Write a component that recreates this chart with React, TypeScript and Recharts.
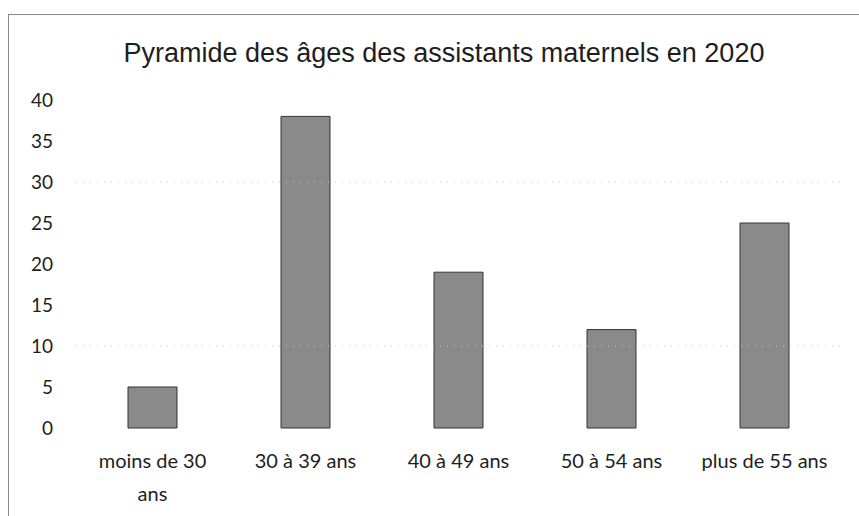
import React from "react";
import { BarChart, Bar, XAxis, YAxis, ReferenceLine } from "recharts";

const categories = ["moins de 30 ans", "30 à 39 ans", "40 à 49 ans", "50 à 54 ans", "plus de 55 ans"];
const values = [5, 38, 19, 12, 25];
const yTicks = [0, 5, 10, 15, 20, 25, 30, 35, 40];
const gridValues = [10, 30];
const title = "Pyramide des âges des assistants maternels en 2020";

const data = categories.map((c, i) => ({ name: c, value: values[i] }));

const XTick = (props: any) => {
  const { x, y, payload } = props;
  const label: string = payload.value;
  let lines = [label];
  if (label.length > 14) {
    const idx = label.lastIndexOf(" ");
    lines = [label.slice(0, idx), label.slice(idx + 1)];
  }
  return (
    <text x={x} y={y} textAnchor="middle" fontFamily="Lato" fontSize={20} fill="#1e1e1e">
      {lines.map((l, i) => (
        <tspan key={i} x={x} dy={i === 0 ? 40 : 33}>
          {l}
        </tspan>
      ))}
    </text>
  );
};

export default function App() {
  return (
    <div style={{ position: "absolute", left: 0, top: 0, width: 859, height: 516, background: "#fff" }}>
      <div
        style={{
          position: "absolute",
          left: 8,
          top: 14,
          width: 851,
          height: 502,
          borderLeft: "1px solid #8a8a8a",
          borderTop: "1px solid #8a8a8a",
        }}
      />
      <div
        style={{
          position: "absolute",
          left: 0,
          top: 38,
          width: 888,
          textAlign: "center",
          fontFamily: "Liberation Sans",
          fontSize: 27,
          color: "#1e1e1e",
          lineHeight: "30px",
        }}
      >
        {title}
      </div>
      <div style={{ position: "absolute", left: 0, top: 0 }}>
        <BarChart
          width={859}
          height={516}
          data={data}
          margin={{ top: 100, right: 18, left: 16, bottom: 28 }}
          barSize={49}
        >
          {gridValues.map((v) => (
            <ReferenceLine key={v} y={v} stroke="#c8c8c8" strokeDasharray="1 6" />
          ))}
          <XAxis
            dataKey="name"
            axisLine={false}
            tickLine={false}
            tickSize={0}
            tickMargin={0}
            height={60}
            interval={0}
            tick={<XTick />}
          />
          <YAxis
            width={60}
            domain={[0, 40]}
            ticks={yTicks}
            axisLine={false}
            tickLine={false}
            tickSize={0}
            tickMargin={23}
            tick={{ fontFamily: "Lato", fontSize: 19, fill: "#1e1e1e" }}
          />
          <Bar dataKey="value" fill="#8a8a8a" stroke="#333333" strokeWidth={1} isAnimationActive={false} />
        </BarChart>
      </div>
    </div>
  );
}
